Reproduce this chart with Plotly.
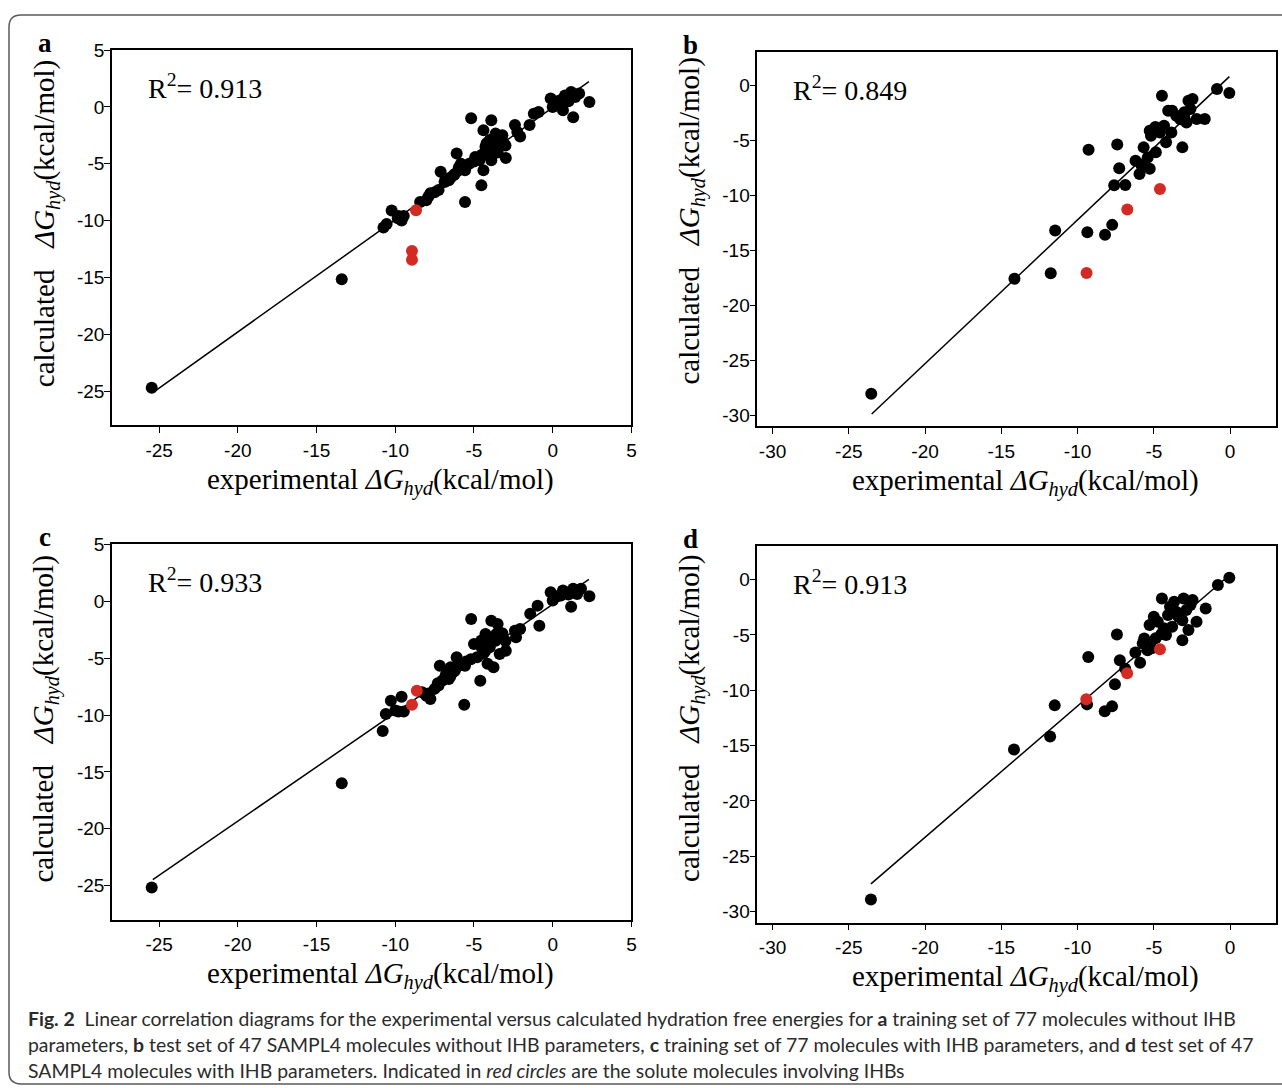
import plotly.graph_objects as go

# ---------------- data ----------------
# Panel a: training set, without IHB parameters
a_black_x = [-25.47, -13.4, -10.75, -10.55, -10.23, -9.84, -9.46, -9.6, -8.42, -8.03, -7.77, -7.5,
             -7.25, -7.12, -6.87, -6.6, -6.48, -6.22, -6.1, -5.96, -5.83, -5.57, -5.57, -5.3, -5.18,
             -4.92, -4.66, -4.53, -4.4, -4.4, -4.27, -4.14, -4.0, -3.9, -3.9, -3.76, -3.63, -3.5,
             -3.37, -3.24, -3.11, -2.98, -2.4, -2.25, -2.07, -1.47, -1.2, -0.9, -0.13, 0.0, 0.52,
             0.65, 0.78, 0.96, 1.17, 1.3, 1.43, 1.68, 2.33,
             -4.2, -3.8, -3.5, -4.5, -6.8, -6.3, -5.5, -7.9, -3.2, -4.0, -5.0, -6.0, 0.3, 1.0,
             -9.8, -3.0]
a_black_y = [-24.7, -15.15, -10.6, -10.3, -9.1, -9.8, -9.6, -10.0, -8.36, -8.2, -7.6, -7.5,
             -7.3, -5.7, -6.6, -6.45, -6.2, -5.9, -4.1, -5.3, -5.0, -5.57, -8.36, -5.0, -1.0,
             -4.4, -4.7, -6.9, -5.57, -2.05, -3.5, -3.96, -2.9, -1.17, -4.7, -3.2, -2.35, -2.6,
             -3.5, -2.9, -3.2, -4.5, -1.6, -2.2, -2.6, -1.6, -0.6, -0.44, 0.73, 0.0, 0.6,
             -0.3, 1.0, 0.73, 1.3, -0.9, 0.88, 1.17, 0.44,
             -3.2, -3.8, -4.0, -4.2, -6.3, -6.0, -5.2, -7.9, -2.5, -4.3, -4.8, -5.6, 0.5, 0.5,
             -9.6, -3.4]
a_red_x = [-8.68, -8.94, -8.94]
a_red_y = [-9.09, -12.67, -13.45]
a_fit = dict(slope=0.987, intercept=-0.05, x_start=-25.2, x_end=2.3)
a_r2 = "0.913"

# Panel b: SAMPL4 test set, without IHB parameters
b_black_x = [-23.53, -14.14, -11.76, -11.47, -9.36, -9.28, -8.2, -7.73, -7.4, -7.27, -7.6, -6.87,
             -6.2, -5.94, -5.67, -5.8, -5.27, -5.4, -5.27, -5.19, -4.87, -4.73, -4.6, -4.47, -4.33,
             -4.2, -4.06, -3.85, -3.8, -3.53, -3.26, -3.13, -3.0, -2.86, -2.73, -2.6, -2.46, -2.19,
             -1.66, -0.86, -0.05, -5.0, -4.9, -3.0]
b_black_y = [-28.05, -17.6, -17.1, -13.2, -13.37, -5.87, -13.6, -12.7, -5.4, -7.56, -9.1, -9.08,
             -6.87, -8.08, -5.66, -7.3, -7.6, -6.57, -4.15, -4.6, -6.1, -4.0, -4.3, -0.97, -3.7,
             -5.2, -2.33, -4.3, -2.33, -2.78, -3.1, -5.66, -2.48, -3.39, -1.42, -2.18, -1.27, -3.09,
             -3.09, -0.36, -0.73, -4.0, -3.8, -2.9]
b_red_x = [-9.41, -6.74, -4.6]
b_red_y = [-17.07, -11.3, -9.44]
b_fit = dict(slope=1.307, intercept=0.83, x_start=-23.5, x_end=-0.05)
b_r2 = "0.849"

# Panel c: training set, with IHB parameters
c_black_x = [-25.47, -13.4, -10.8, -10.6, -10.28, -10.0, -9.6, -9.46, -8.3, -8.03, -7.77, -7.5,
             -7.25, -7.17, -7.0, -6.74, -6.6, -6.48, -6.22, -6.1, -5.96, -5.62, -5.57, -5.18, -5.0,
             -4.8, -4.6, -4.53, -4.4, -4.27, -4.14, -4.0, -3.9, -3.76, -3.63, -3.5, -3.37, -3.24,
             -2.98, -2.4, -2.33, -2.07, -1.43, -0.96, -0.85, -0.13, 0.0, 0.52, 0.65, 1.17, 1.3,
             1.55, 1.8, 2.33,
             -4.2, -3.8, -4.5, -6.8, -6.3, -5.5, -7.9, -3.2, -4.0, -5.2, -6.0, 0.3, 1.0, -9.8,
             -3.0, -4.3, -3.6, -6.5, -5.8, -7.3]
c_black_y = [-25.16, -16.0, -11.4, -9.9, -8.74, -9.6, -8.4, -9.7, -8.0, -8.3, -8.6, -7.7,
             -7.4, -5.66, -6.96, -6.4, -6.83, -5.8, -6.1, -4.93, -5.5, -9.1, -5.66, -1.55, -3.75,
             -4.93, -6.98, -3.45, -4.6, -2.87, -5.5, -4.05, -1.7, -5.8, -3.46, -2.0, -4.63, -3.17,
             -4.34, -2.58, -3.17, -2.43, -1.1, -0.38, -2.14, 0.8, 0.06, 0.5, 0.94, -0.47, 1.1,
             0.65, 1.1, 0.44,
             -3.6, -3.3, -4.1, -6.5, -6.2, -5.3, -8.1, -2.8, -3.3, -5.1, -5.7, 0.45, 0.6, -9.7,
             -3.5, -4.4, -2.9, -6.6, -5.6, -7.2]
c_red_x = [-8.94, -8.63]
c_red_y = [-9.1, -7.86]
c_fit = dict(slope=0.953, intercept=-0.27, x_start=-25.4, x_end=2.3)
c_r2 = "0.933"

# Panel d: SAMPL4 test set, with IHB parameters
d_black_x = [-23.55, -14.17, -11.8, -11.5, -9.38, -9.3, -8.22, -7.74, -7.55, -7.42, -7.23, -6.88,
             -6.21, -5.9, -5.73, -5.63, -5.41, -5.28, -5.14, -5.0, -4.88, -4.74, -4.47, -4.34,
             -4.2, -4.07, -3.94, -3.8, -3.67, -3.54, -3.13, -3.13, -3.05, -2.87, -2.73, -2.6,
             -2.46, -2.2, -1.6, -0.8, -0.05, -4.5, -3.4, -5.5]
d_black_y = [-28.9, -15.35, -14.17, -11.36, -11.27, -6.98, -11.9, -11.45, -9.46, -4.95, -7.28, -8.04,
             -6.59, -7.5, -5.77, -5.32, -6.37, -4.1, -6.2, -3.35, -5.3, -3.8, -1.7, -4.4,
             -5.0, -3.2, -2.45, -4.26, -2.0, -2.9, -5.47, -3.66, -1.7, -2.75, -4.56, -2.3,
             -1.84, -3.8, -2.6, -0.48, 0.18, -4.9, -3.3, -5.9]
d_red_x = [-9.43, -6.75, -4.6]
d_red_y = [-10.8, -8.46, -6.28]
d_fit = dict(slope=1.187, intercept=0.46, x_start=-23.55, x_end=-0.05)
d_r2 = "0.913"

ticks_ac = [-25, -20, -15, -10, -5, 0, 5]
ticks_bd = [-30, -25, -20, -15, -10, -5, 0]
range_ac = [-28, 5]
range_bd = [-31, 3]

panel_letters = ["a", "b", "c", "d"]

# ---------------- layout helpers ----------------
W, H = 1282, 1088
# correction for how the page ends up in the photograph
SX = 0.997
TY, SY = 10.0, 0.99


def fx(X):
    return (X / SX) / W


def fy(Y):
    return 1 - ((Y - TY) / SY) / H


def clamp(v):
    return max(0.0, min(1.0, v))


# plot frames in reference pixels: (left, right, top, bottom)
frames = [(112, 632, 50, 425), (758, 1277, 52, 426), (112, 632, 544, 919), (758, 1277, 546, 922)]
ytitle_center = [223, 221, 718, 718]

panels = [
    (a_black_x, a_black_y, a_red_x, a_red_y, a_fit, a_r2, ticks_ac, range_ac),
    (b_black_x, b_black_y, b_red_x, b_red_y, b_fit, b_r2, ticks_bd, range_bd),
    (c_black_x, c_black_y, c_red_x, c_red_y, c_fit, c_r2, ticks_ac, range_ac),
    (d_black_x, d_black_y, d_red_x, d_red_y, d_fit, d_r2, ticks_bd, range_bd),
]

RED = "#d42a24"
SERIF = "Liberation Serif, Times New Roman, serif"
SANS = "Liberation Sans, Arial, sans-serif"

fig = go.Figure()
layout = dict(
    width=W, height=H, autosize=False,
    margin=dict(l=0, r=0, t=0, b=0),
    paper_bgcolor="white", plot_bgcolor="white",
    showlegend=False,
)
annotations = []

for i, (bx, by, rx, ry, fit, r2, ticks, rng) in enumerate(panels):
    n = "" if i == 0 else str(i + 1)
    xa, ya = "x" + n, "y" + n
    L, R, T, B = frames[i]
    axis_common = dict(
        range=rng, tickvals=ticks, ticktext=[str(t) for t in ticks],
        showline=True, linecolor="black", linewidth=1.5, mirror=True,
        ticks="outside", ticklen=6, tickwidth=1.2, tickcolor="black",
        showgrid=False, zeroline=False,
        tickfont=dict(family=SANS, size=19, color="black"),
    )
    layout["xaxis" + n] = dict(axis_common, domain=[clamp(fx(L)), clamp(fx(R))], anchor=ya,
                               ticklabelstandoff=1)
    layout["yaxis" + n] = dict(axis_common, domain=[clamp(fy(B)), clamp(fy(T))], anchor=xa,
                               ticklabelstandoff=-4)

    # regression line
    lx = [fit["x_start"], fit["x_end"]]
    ly = [fit["slope"] * v + fit["intercept"] for v in lx]
    fig.add_trace(go.Scatter(x=lx, y=ly, mode="lines", line=dict(color="black", width=1.5),
                             xaxis=xa, yaxis=ya, hoverinfo="skip"))
    fig.add_trace(go.Scatter(x=bx, y=by, mode="markers",
                             marker=dict(color="black", size=12, line=dict(width=0)),
                             xaxis=xa, yaxis=ya))
    fig.add_trace(go.Scatter(x=rx, y=ry, mode="markers",
                             marker=dict(color=RED, size=12, line=dict(width=0)),
                             xaxis=xa, yaxis=ya))

    # panel letter
    annotations.append(dict(text="<b>%s</b>" % panel_letters[i], x=fx(L - 67), y=fy(T - 7),
                            xref="paper", yref="paper", showarrow=False, xanchor="center",
                            yanchor="middle", font=dict(family=SERIF, size=27, color="black")))
    # R^2
    annotations.append(dict(text="R<sup>2</sup>= " + r2, x=fx(L + 34), y=fy(T + 36),
                            xref="paper", yref="paper", showarrow=False, xanchor="left",
                            yanchor="middle", font=dict(family=SERIF, size=28, color="black")))
    # x-axis title
    annotations.append(dict(text="experimental <i>ΔG</i><sub><i>hyd</i></sub>(kcal/mol)",
                            x=fx((L + R) / 2 + 9), y=fy(B + 56),
                            xref="paper", yref="paper", showarrow=False, xanchor="center",
                            yanchor="middle", font=dict(family=SERIF, size=29, color="black")))
    # y-axis title
    annotations.append(dict(text="calculated\u00a0\u00a0\u00a0<i>ΔG</i><sub><i>hyd</i></sub>(kcal/mol)",
                            x=fx(L - 66), y=fy(ytitle_center[i]), textangle=-90,
                            xref="paper", yref="paper", showarrow=False, xanchor="center",
                            yanchor="middle", font=dict(family=SERIF, size=29, color="black")))

# caption
caption_lines = [
    "<b>Fig. 2</b>  Linear correlation diagrams for the experimental versus calculated hydration free energies for <b>a</b> training set of 77 molecules without IHB",
    "parameters, <b>b</b> test set of 47 SAMPL4 molecules without IHB parameters, <b>c</b> training set of 77 molecules with IHB parameters, and <b>d</b> test set of 47",
    "SAMPL4 molecules with IHB parameters. Indicated in <i>red circles</i> are the solute molecules involving IHBs",
]
caption_y = [1018, 1044, 1070]
for line, yy in zip(caption_lines, caption_y):
    annotations.append(dict(text=line, x=fx(26), y=fy(yy), xref="paper", yref="paper",
                            showarrow=False, xanchor="left", yanchor="middle",
                            font=dict(family="Lato, sans-serif", size=19.4, color="#2b2b2b")))

layout["annotations"] = annotations

# outer rounded border (open on the right side, like the reference crop)
x0, x1 = fx(9), fx(1300)
yt, yb = fy(15), fy(1083)
rxp, ryp = 12 / W, 12 / H
path = (f"M {x1},{yt} L {x0 + rxp},{yt} Q {x0},{yt} {x0},{yt - ryp} "
        f"L {x0},{yb + ryp} Q {x0},{yb} {x0 + rxp},{yb} L {x1},{yb}")
layout["shapes"] = [dict(type="path", path=path, xref="paper", yref="paper",
                         line=dict(color="#58595b", width=1.5))]

fig.update_layout(**layout)

# pin the figure to the top-left corner of the window (no page margin / scrolling)
pin = ("var gd=document.getElementById('{plot_id}');"
       "document.documentElement.style.margin='0';document.documentElement.style.overflow='hidden';"
       "document.body.style.margin='0';document.body.style.overflow='hidden';"
       "gd.style.position='fixed';gd.style.left='0px';gd.style.top='0px';")
fig.write_html("out.html", post_script=pin, config={"displayModeBar": False})
